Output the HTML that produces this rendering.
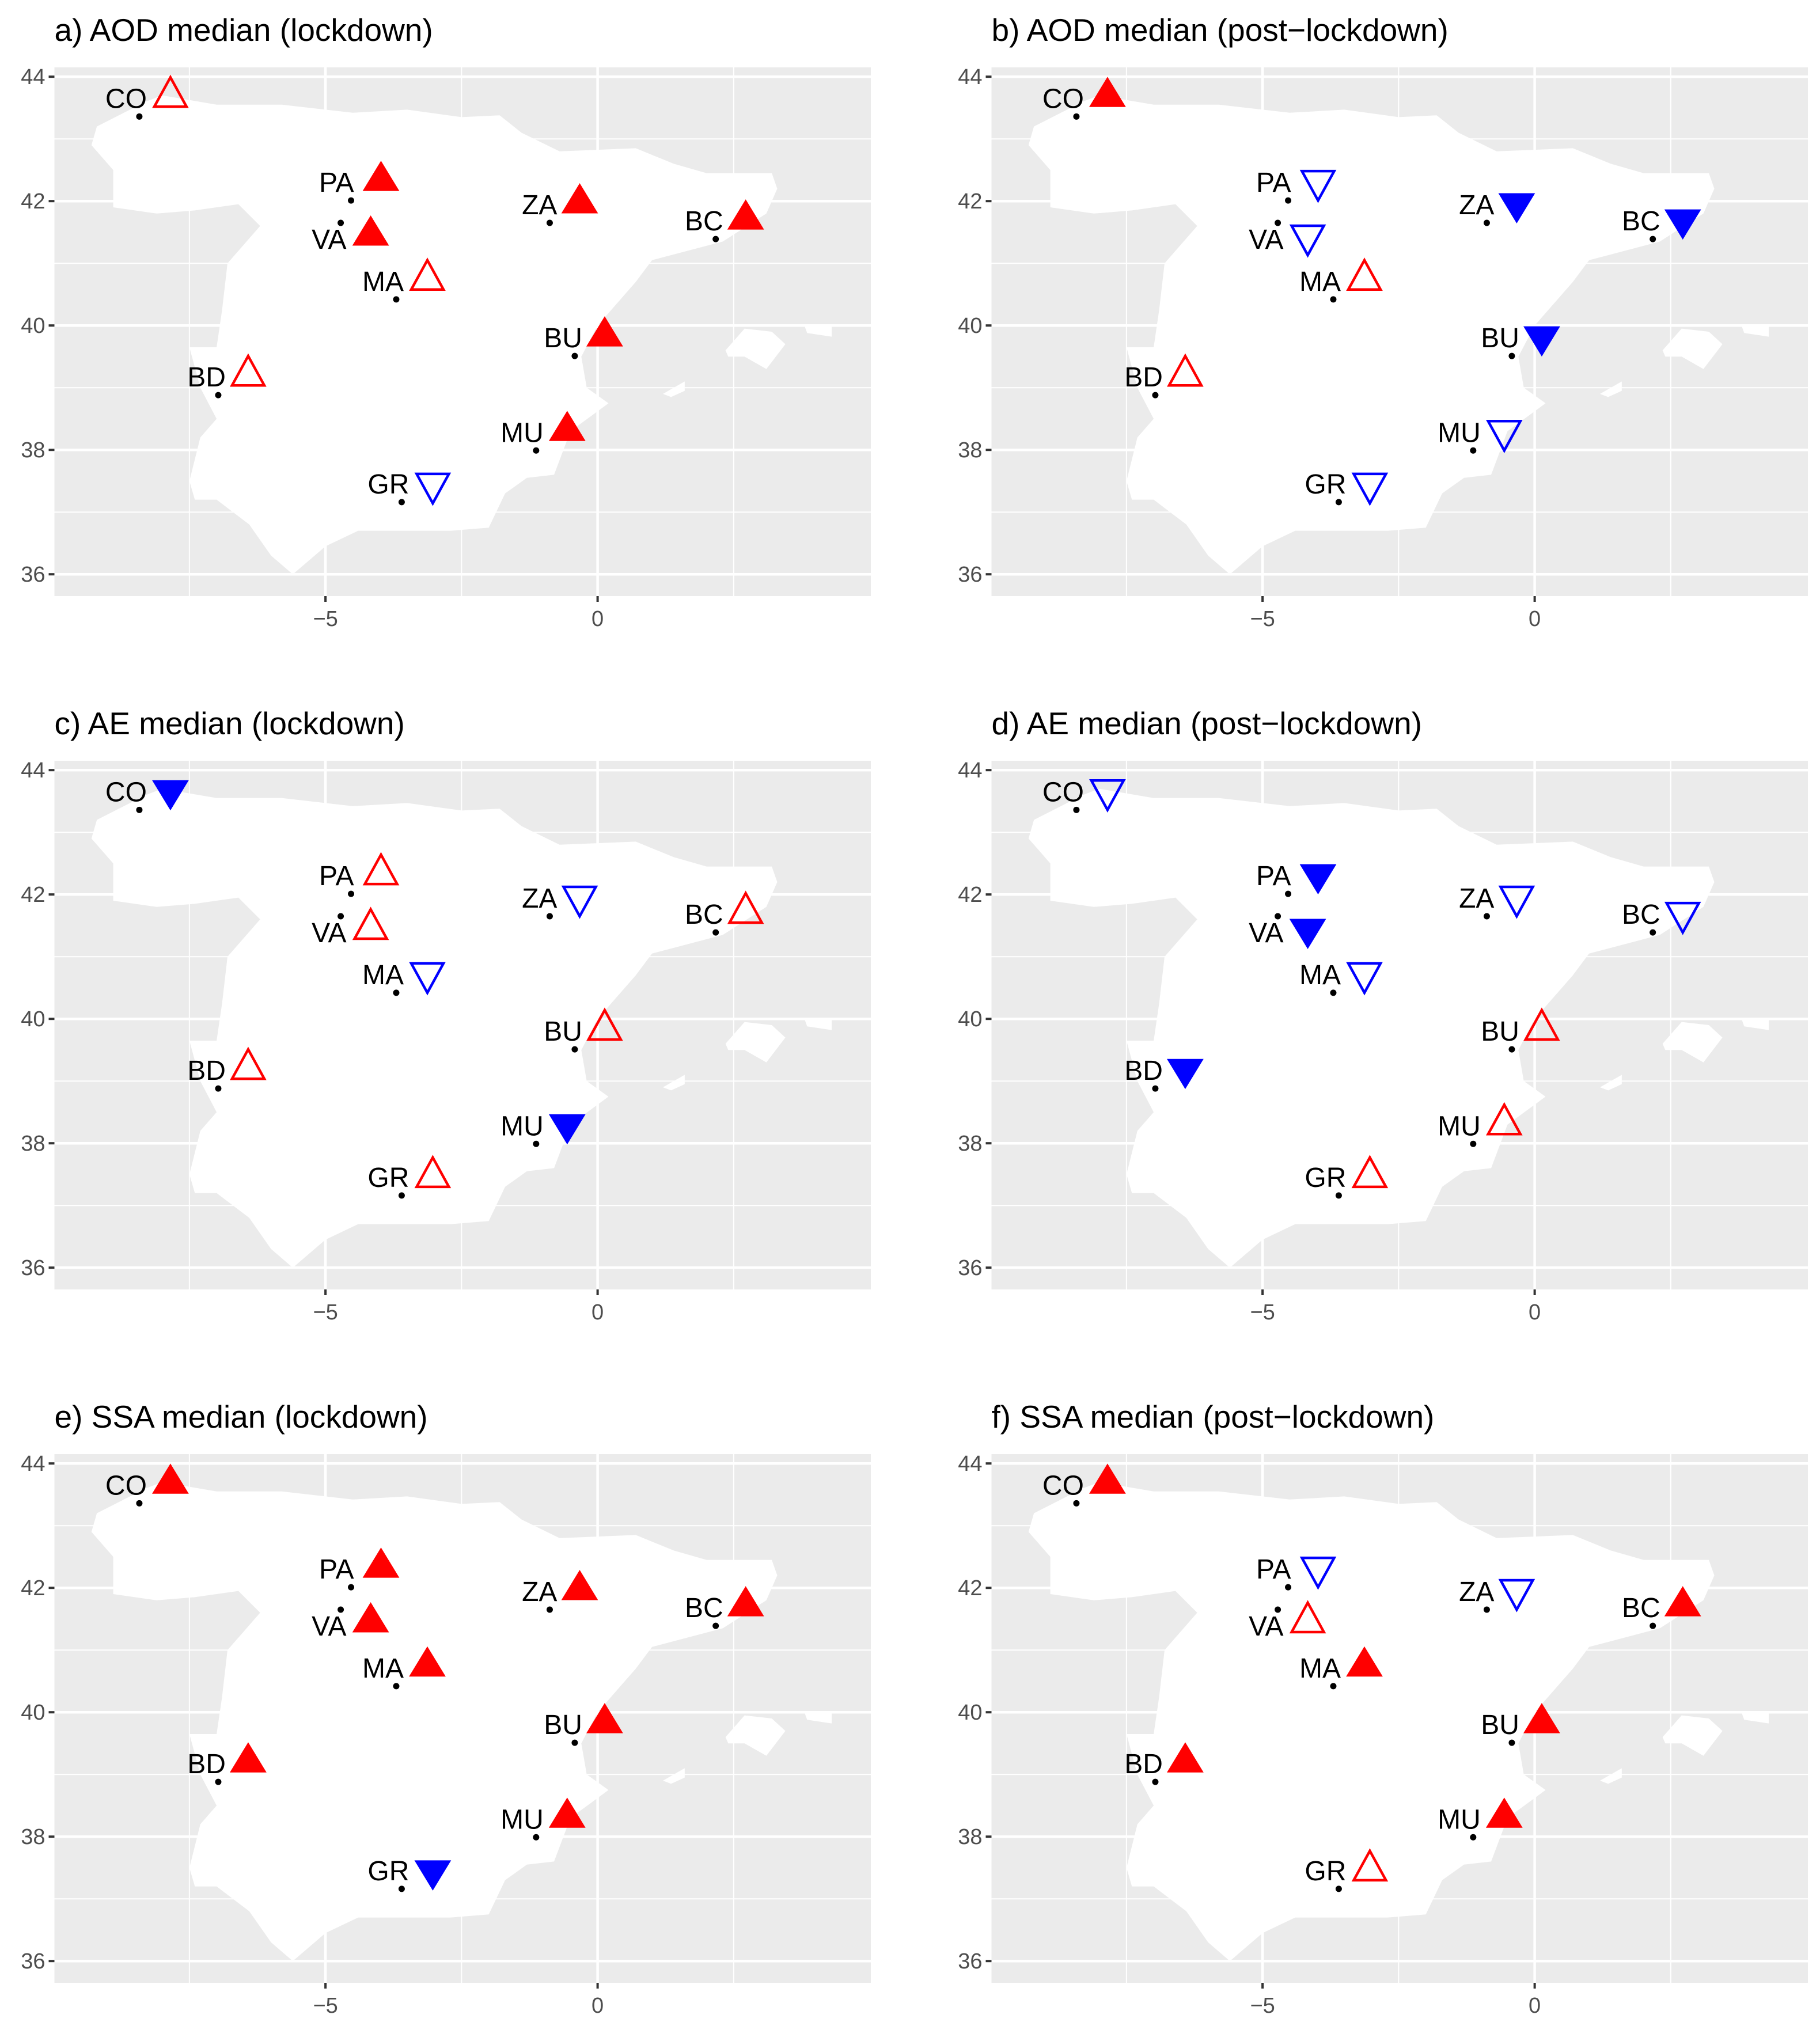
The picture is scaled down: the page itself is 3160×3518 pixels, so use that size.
<!DOCTYPE html>
<html><head><meta charset="utf-8"><style>
html,body{margin:0;padding:0;background:#fff;}
svg{display:block;font-family:"Liberation Sans",sans-serif;}
</style></head><body>
<svg id="fig" width="3160" height="3518" viewBox="0 0 3160 3518" xmlns="http://www.w3.org/2000/svg"></svg>
<script>
const panelTitles = ["a) AOD median (lockdown)","b) AOD median (post\u2212lockdown)","c) AE median (lockdown)","d) AE median (post\u2212lockdown)","e) SSA median (lockdown)","f) SSA median (post\u2212lockdown)"];
const stations = ["CO","PA","VA","ZA","BC","MA","BU","BD","MU","GR"];
const stationLon = [-8.42,-4.53,-4.72,-0.88,2.17,-3.70,-0.42,-6.97,-1.13,-3.60];
const stationLat = [43.36,42.01,41.65,41.65,41.39,40.42,39.51,38.88,37.99,37.16];
// U = up filled, u = up open, D = down filled, d = down open
const panelA = ["u","U","U","U","U","u","U","u","U","d"];
const panelB = ["U","d","d","D","D","u","D","u","d","d"];
const panelC = ["D","u","u","d","u","d","u","u","D","u"];
const panelD = ["d","D","D","d","d","d","u","D","u","u"];
const panelE = ["U","U","U","U","U","U","U","U","U","D"];
const panelF = ["U","d","u","d","U","U","U","U","U","u"];
const panelSymbols = [panelA,panelB,panelC,panelD,panelE,panelF];
const latTicks = [36,38,40,42,44];
const lonTicks = [-5,0];
const latMinor = [37,39,41,43];
const lonMinor = [-7.5,-2.5,2.5];
const spain = [[-8.0,43.7],[-7.0,43.55],[-5.8,43.55],[-4.5,43.42],[-3.5,43.47],[-2.5,43.35],[-1.8,43.38],[-1.4,43.1],[-0.7,42.8],[0.7,42.85],[1.4,42.6],[2.0,42.45],[3.2,42.45],[3.3,42.2],[3.1,41.8],[2.3,41.35],[1.0,41.05],[0.7,40.7],[0.0,40.0],[-0.3,39.5],[-0.2,39.0],[0.2,38.75],[-0.5,38.3],[-0.8,37.6],[-1.3,37.55],[-1.7,37.3],[-2.0,36.75],[-2.7,36.7],[-4.4,36.7],[-5.0,36.45],[-5.6,36.0],[-6.0,36.3],[-6.4,36.8],[-7.0,37.2],[-7.4,37.2],[-7.5,37.5],[-7.3,38.2],[-7.0,38.5],[-7.3,39.0],[-7.5,39.65],[-7.0,39.65],[-6.9,40.25],[-6.8,41.0],[-6.2,41.6],[-6.6,41.95],[-7.4,41.85],[-8.1,41.8],[-8.9,41.9],[-8.9,42.5],[-9.3,42.9],[-9.2,43.2],[-8.3,43.6]];
const mallorca = [[2.35,39.6],[2.7,39.95],[3.2,39.9],[3.45,39.7],[3.1,39.3],[2.7,39.5],[2.4,39.5]];
const menorca = [[3.8,40.0],[4.3,39.98],[4.3,39.82],[3.85,39.88]];
const ibiza = [[1.2,38.9],[1.6,39.1],[1.6,38.95],[1.35,38.85]];
// label / marker offsets in px (layout, repelled labels)
const labelDX = [13,5,10,13,13,13,13,13,13,13];
const labelDY = [-15,-15,45,-15,-15,-15,-15,-15,-15,-15];
const markDX = [54,52,52,52,52,54,52,52,54,54];
const markDY = [-34,-34,22,-34,-34,-34,-34,-34,-34,-32];

const NS="http://www.w3.org/2000/svg";
const svg=document.getElementById('fig');
function mk(tag,attrs,parent){const e=document.createElementNS(NS,tag);for(const k in attrs)e.setAttribute(k,attrs[k]);(parent||svg).appendChild(e);return e;}

const LON0=-9.98,LON1=5.02,LAT0=35.65,LAT1=44.15;
const PW=1417.5,PH=918;
panelTitles.forEach((title,pi)=>{
  const ox=94.5+(pi%2)*1627, oy=117+Math.floor(pi/2)*1204;
  const xs=lon=>ox+(lon-LON0)/(LON1-LON0)*PW;
  const ys=lat=>oy+(LAT1-lat)/(LAT1-LAT0)*PH;
  const g=mk('g',{});
  
  
  const t=mk('text',{x:ox,y:oy-46,'font-size':55,fill:'#000'},g);
  t.textContent=title;
  
  
  const bg=mk('rect',{x:ox,y:oy,width:PW,height:PH,fill:'#ebebeb'},g);
  
  
  latMinor.forEach(v=>{const l=mk('line',{x1:ox,x2:ox+PW,y1:ys(v),y2:ys(v),stroke:'#fff','stroke-width':2},g);});
  lonMinor.forEach(v=>{const l=mk('line',{y1:oy,y2:oy+PH,x1:xs(v),x2:xs(v),stroke:'#fff','stroke-width':2},g);});
  latTicks.forEach(v=>{
    const l=mk('line',{x1:ox,x2:ox+PW,y1:ys(v),y2:ys(v),stroke:'#fff','stroke-width':4.5},g);
    
    const tk=mk('line',{x1:ox-10,x2:ox,y1:ys(v),y2:ys(v),stroke:'#333','stroke-width':4},g);
    
    const tl=mk('text',{x:ox-16,y:ys(v)+13,'font-size':38,fill:'#4d4d4d','text-anchor':'end'},g);
    tl.textContent=v;
  });
  lonTicks.forEach(v=>{
    const l=mk('line',{y1:oy,y2:oy+PH,x1:xs(v),x2:xs(v),stroke:'#fff','stroke-width':4.5},g);
    
    const tk=mk('line',{y1:oy+PH,y2:oy+PH+10,x1:xs(v),x2:xs(v),stroke:'#333','stroke-width':4},g);
    
    const tl=mk('text',{x:xs(v),y:oy+PH+52,'font-size':38,fill:'#4d4d4d','text-anchor':'middle'},g);
    tl.textContent=v<0?'\u2212'+(-v):v;
  });
  [spain,mallorca,menorca,ibiza].forEach((poly,k)=>{
    const p=mk('polygon',{points:poly.map(c=>xs(c[0]).toFixed(1)+','+ys(c[1]).toFixed(1)).join(' '),fill:'#fff'},g);
    
    
  });
  stations.forEach((s,i)=>{
    const px=xs(stationLon[i]),py=ys(stationLat[i]);
    const d=mk('circle',{cx:px,cy:py,r:5.5,fill:'#000'},g);
    
    const lb=mk('text',{x:px+labelDX[i],y:py+labelDY[i],'font-size':48,fill:'#000','text-anchor':'end'},g);
    lb.textContent=s;
    const code=panelSymbols[pi][i];
    const up=code.toLowerCase()==='u', filled=code===code.toUpperCase();
    const col=up?'#ff0000':'#0000ff';
    const cx=px+markDX[i], cy=py+markDY[i], hw=(filled?31:28);
    const pts=up?[[cx,cy-34],[cx-hw,cy+17],[cx+hw,cy+17]]:[[cx,cy+34],[cx-hw,cy-17],[cx+hw,cy-17]];
    const tri=mk('polygon',{points:pts.map(p=>p[0].toFixed(1)+','+p[1].toFixed(1)).join(' '),fill:filled?col:'none',stroke:col,'stroke-width':filled?1:4.5,'stroke-linejoin':'miter'},g);
    
    
  });
});
</script>
</body></html>
